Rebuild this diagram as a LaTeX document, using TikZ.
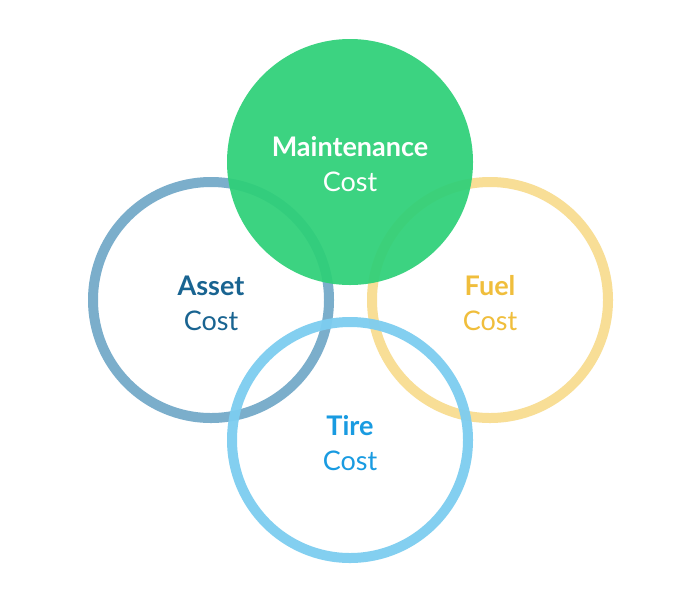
\documentclass[tikz,border=0pt]{standalone}
\usepackage{fontspec}
\setmainfont{Lato}
\definecolor{mgreen}{RGB}{46,208,120}
\definecolor{aring}{RGB}{100,160,195}
\definecolor{atext}{RGB}{25,100,145}
\definecolor{fring}{RGB}{248,222,150}
\definecolor{ftext}{RGB}{240,190,60}
\definecolor{tring}{RGB}{125,205,240}
\definecolor{ttext}{RGB}{25,155,225}
\tikzset{ring/.style={draw=#1,line width=10pt,circle,minimum size=236pt,inner sep=0pt},
lbl/.style={align=center,font=\fontsize{27}{35}\selectfont}}
\begin{document}
\begin{tikzpicture}[x=1pt,y=-1pt]
\useasboundingbox[fill=white] (0,0) rectangle (700,600);
\node[ring=aring,opacity=0.85] (asset) at (211,300) {};
\node[ring=fring] (fuel) at (490,300) {};
\node[ring=tring,opacity=0.95] (tire) at (350,440) {};
\node[circle,fill=mgreen,fill opacity=0.93,minimum size=246pt,inner sep=0pt] (maint) at (350,162) {};
\node[lbl,text=white] (mt) at (350,164) {\textbf{Maintenance}\\Cost};
\node[lbl,text=atext] (at) at (211,303) {\textbf{Asset}\\Cost};
\node[lbl,text=ftext] (ft) at (490,303) {\textbf{Fuel}\\Cost};
\node[lbl,text=ttext] (tt) at (350,443) {\textbf{Tire}\\Cost};
\end{tikzpicture}
\end{document}
